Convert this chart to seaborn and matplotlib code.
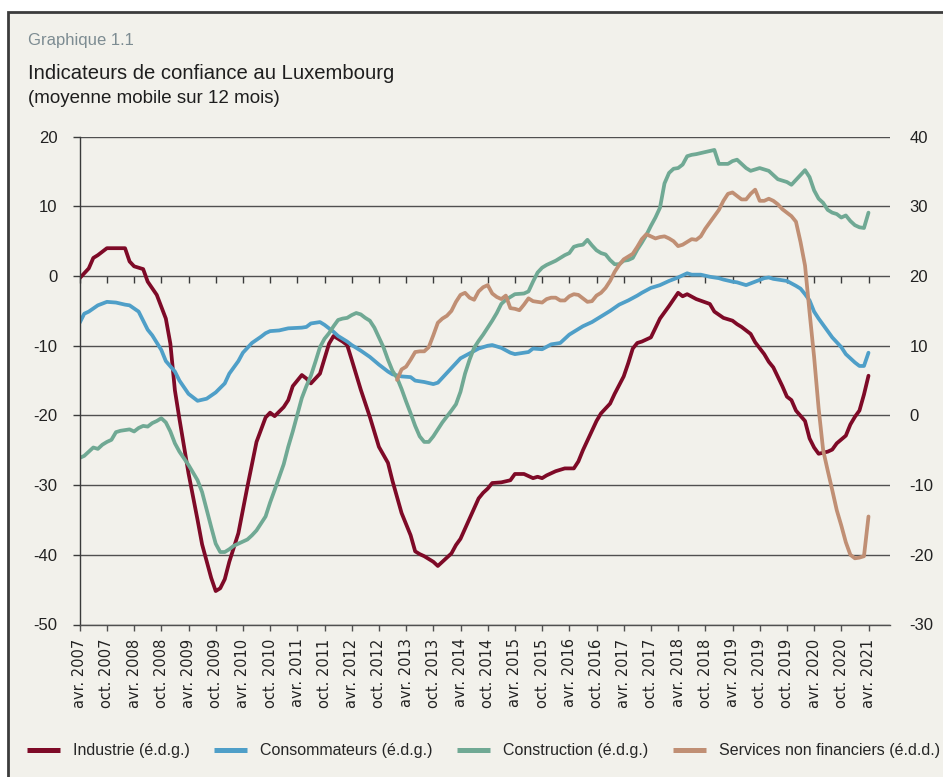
import numpy as np
import pandas as pd
import matplotlib
matplotlib.use("Agg")
import matplotlib.pyplot as plt
import seaborn as sns
from matplotlib.lines import Line2D
from matplotlib.patches import Rectangle

# ---------------- data (month index from avr. 2007) ----------------
ind_m = [0, 2, 3, 4, 6, 10, 11, 12, 14, 15, 17, 19, 20, 21, 22, 24, 26, 27, 29, 30, 31, 32, 33, 35, 37, 39,
         41, 42, 43, 45, 46, 47, 49, 50, 51, 53, 55, 56, 58, 59, 60, 62, 64, 66, 68, 69, 71, 73, 74, 75, 76,
         78, 79, 80, 82, 83, 84, 86, 88, 89, 90, 91, 93, 95, 96, 98, 100, 101, 102, 103, 105, 107, 109, 110,
         111, 112, 114, 115, 117, 118, 120, 121, 122, 123, 124, 126, 128, 130, 132, 133, 134, 136, 139, 140,
         142, 144, 145, 146, 148, 149, 151, 152, 153, 155, 156, 157, 158, 160, 161, 162, 163, 165, 166, 167,
         169, 170, 171, 172, 173, 174]
ind_v = [-0.3, 1.1, 2.6, 3.0, 4.0, 4.0, 2.1, 1.4, 1.0, -0.8, -2.7, -6.1, -9.7, -16.4, -20.5, -28.3, -35.0,
         -38.5, -43.3, -45.2, -44.8, -43.5, -41.0, -36.9, -30.2, -23.8, -20.3, -19.6, -20.1, -18.8, -17.8,
         -15.8, -14.2, -14.7, -15.4, -14.0, -9.7, -8.6, -9.4, -9.9, -12.0, -16.3, -20.2, -24.5, -26.8, -29.4,
         -34.0, -37.2, -39.5, -39.9, -40.2, -41.0, -41.6, -41.0, -39.8, -38.6, -37.7, -34.8, -31.9, -31.1,
         -30.5, -29.7, -29.6, -29.3, -28.4, -28.4, -29.0, -28.8, -29.0, -28.6, -28.0, -27.6, -27.6, -26.6,
         -25.0, -23.6, -20.8, -19.7, -18.3, -16.9, -14.4, -12.5, -10.4, -9.6, -9.4, -8.8, -6.1, -4.3, -2.4,
         -2.9, -2.6, -3.3, -4.0, -5.1, -6.0, -6.4, -6.9, -7.3, -8.3, -9.5, -11.2, -12.3, -13.1, -15.8, -17.3,
         -17.8, -19.3, -20.8, -23.3, -24.6, -25.5, -25.2, -24.9, -24.0, -22.9, -21.3, -20.2, -19.3, -17.0,
         -14.3]

con_m = [0, 1, 2, 4, 6, 8, 10, 11, 13, 15, 16, 18, 19, 21, 22, 24, 26, 28, 30, 32, 33, 35, 36, 38, 40, 41,
         42, 44, 46, 49, 50, 51, 53, 54, 56, 57, 59, 60, 62, 64, 66, 68, 69, 71, 73, 74, 76, 78, 79, 80, 82,
         84, 86, 88, 90, 91, 93, 95, 96, 98, 99, 100, 102, 104, 106, 108, 110, 111, 113, 115, 117, 119, 121,
         123, 124, 126, 128, 130, 132, 134, 135, 137, 139, 141, 142, 144, 145, 147, 149, 151, 152, 153, 156,
         158, 159, 160, 161, 162, 163, 165, 166, 168, 169, 170, 171, 172, 173, 174]
con_v = [-6.7, -5.4, -5.1, -4.2, -3.7, -3.8, -4.1, -4.2, -5.1, -7.7, -8.5, -10.6, -12.2, -13.7, -15.0,
         -16.9, -17.9, -17.6, -16.7, -15.4, -14.0, -12.2, -11.0, -9.6, -8.7, -8.2, -7.9, -7.8, -7.5, -7.4,
         -7.3, -6.8, -6.6, -7.0, -8.0, -8.6, -9.4, -9.9, -10.7, -11.6, -12.7, -13.7, -14.1, -14.4, -14.5,
         -15.0, -15.2, -15.5, -15.3, -14.6, -13.2, -11.8, -11.1, -10.4, -10.0, -9.9, -10.3, -11.0, -11.2,
         -11.0, -10.9, -10.4, -10.5, -9.8, -9.6, -8.4, -7.6, -7.2, -6.6, -5.8, -5.0, -4.1, -3.5, -2.8, -2.4,
         -1.7, -1.3, -0.7, -0.2, 0.4, 0.2, 0.2, -0.1, -0.3, -0.5, -0.8, -0.9, -1.3, -0.8, -0.3, -0.2, -0.4,
         -0.7, -1.4, -1.8, -2.6, -3.5, -5.1, -6.1, -7.9, -8.8, -10.2, -11.2, -11.8, -12.4, -12.9, -12.9,
         -11.0]

bat_m = list(range(0, 23)) + [24, 26, 27, 28, 29, 30, 31, 32, 33, 34, 35, 36, 37, 38, 39, 40, 41, 42, 43,
         45, 46, 47, 49, 50, 51, 52, 53, 54, 55, 56, 57, 58, 59, 60, 61, 62, 63, 64, 65, 66, 67, 68, 69, 70,
         71, 72, 73, 74, 75, 76, 77, 78, 79, 80, 82, 83, 84, 85, 86, 87, 88, 89, 90, 91, 92, 93, 94, 95, 96,
         98, 99, 100, 101, 102, 103, 104, 105, 106, 107, 108, 109, 110, 111, 112, 113, 114, 115, 116, 117,
         118, 119, 120, 121, 122, 123, 124, 125, 126, 127, 128, 129, 130, 131, 132, 133, 134, 135, 136, 138,
         140, 141, 142, 143, 144, 145, 146, 147, 148, 149, 150, 151, 152, 153, 154, 155, 156, 157, 158, 159,
         160, 161, 162, 163, 164, 165, 166, 167, 168, 169, 170, 171, 172, 173, 174]
bat_v = [-26.1, -25.8, -25.2, -24.6, -24.8, -24.2, -23.8, -23.5, -22.4, -22.2, -22.1, -22.0, -22.3, -21.8,
         -21.5, -21.6, -21.1, -20.8, -20.4, -21.0, -22.3, -24.0, -25.2, -27.1, -29.3, -31.0, -33.5, -36.0,
         -38.4, -39.6, -39.6, -39.2, -38.7, -38.4, -38.1, -37.8, -37.2, -36.5, -35.5, -34.5, -32.5, -30.7,
         -27.0, -24.5, -22.3, -17.5, -15.8, -14.3, -12.3, -10.2, -9.0, -8.2, -7.2, -6.3, -6.1, -6.0, -5.6,
         -5.3, -5.5, -6.0, -6.4, -7.4, -8.8, -10.2, -12.0, -13.6, -14.6, -16.2, -18.0, -19.7, -21.5, -23.0,
         -23.8, -23.8, -23.0, -22.0, -21.0, -19.3, -18.4, -16.6, -14.0, -12.0, -10.3, -9.3, -8.4, -7.4, -6.4,
         -5.3, -4.0, -3.4, -3.0, -2.6, -2.5, -2.2, -0.8, 0.5, 1.2, 1.6, 1.9, 2.2, 2.6, 3.0, 3.3, 4.2, 4.4,
         4.5, 5.2, 4.4, 3.7, 3.3, 3.1, 2.3, 1.7, 1.7, 2.2, 2.3, 2.6, 3.8, 4.8, 5.9, 7.2, 8.4, 9.8, 13.3, 14.8,
         15.4, 15.5, 16.0, 17.2, 17.4, 17.5, 17.8, 18.1, 16.1, 16.1, 16.1, 16.5, 16.7, 16.1, 15.5, 15.1,
         15.3, 15.5, 15.3, 15.1, 14.5, 13.9, 13.7, 13.5, 13.1, 13.8, 14.5, 15.2, 14.2, 12.3, 11.1, 10.5, 9.5,
         9.1, 8.9, 8.4, 8.7, 7.9, 7.3, 7.0, 6.9, 9.1]

srv_m = list(range(70, 175))
srv_v = [5.1, 6.6, 7.0, 8.0, 9.1, 9.2, 9.2, 9.8, 11.5, 13.3, 13.9, 14.3, 15.0, 16.3, 17.3, 17.6, 16.9,
         16.6, 17.8, 18.4, 18.7, 17.5, 17.0, 16.7, 17.2, 15.4, 15.3, 15.1, 15.9, 16.8, 16.4, 16.3, 16.2,
         16.7, 16.9, 16.9, 16.5, 16.5, 17.1, 17.4, 17.3, 16.8, 16.3, 16.4, 17.2, 17.6, 18.3, 19.3, 20.6,
         21.6, 22.4, 22.8, 23.2, 24.2, 25.3, 26.0, 25.7, 25.4, 25.6, 25.7, 25.4, 25.0, 24.3, 24.5, 24.9,
         25.3, 25.2, 25.7, 26.8, 27.7, 28.6, 29.5, 30.8, 31.8, 32.0, 31.5, 31.0, 31.0, 31.8, 32.4, 30.8,
         30.8, 31.1, 30.8, 30.3, 29.6, 29.1, 28.6, 27.8, 24.9, 21.5, 14.8, 8.4, 1.0, -5.0, -7.9, -10.7,
         -13.6, -15.8, -18.2, -20.0, -20.5, -20.4, -20.2, -14.5]

tick_labels = ["avr. 2007", "oct. 2007", "avr. 2008", "oct. 2008", "avr. 2009", "oct. 2009",
               "avr. 2010", "oct. 2010", "avr. 2011", "oct. 2011", "avr. 2012", "oct. 2012",
               "avr. 2013", "oct. 2013", "avr. 2014", "oct. 2014", "avr. 2015", "oct. 2015",
               "avr. 2016", "oct. 2016", "avr. 2017", "oct. 2017", "avr. 2018", "oct. 2018",
               "avr. 2019", "oct. 2019", "oct. 2019", "avr. 2020", "oct. 2020", "avr. 2021"]

series_names = ["Industrie (é.d.g.)", "Consommateurs (é.d.g.)", "Construction (é.d.g.)",
                "Services non financiers (é.d.d.)"]
colors = ["#7e0a27", "#4f9fc8", "#70a994", "#c08f74"]

left_ticks = [-50, -40, -30, -20, -10, 0, 10, 20]
right_ticks = [-30, -20, -10, 0, 10, 20, 30, 40]

# ---------------- style ----------------
sns.set_style("white")
REG = "Liberation Sans"
plt.rcParams["font.family"] = [REG, "DejaVu Sans"]
plt.rcParams["axes.unicode_minus"] = False

W, H = 943, 777
fig = plt.figure(figsize=(W / 100, H / 100), dpi=100, facecolor="white")
BG = "#f2f1eb"
fig.patches.append(Rectangle((8 / W, -0.05), 1.2, 1 - 12 / H + 0.05, transform=fig.transFigure,
                             facecolor=BG, edgecolor="#3c3c3c", lw=2.0, zorder=-10))

fig.text(28 / W, 1 - 45 / H, "Graphique 1.1", color="#7d8c92", fontsize=12, va="baseline")
fig.text(28 / W, 1 - 79 / H, "Indicateurs de confiance au Luxembourg", color="#1e1e1e", fontsize=14.6,
         va="baseline")
fig.text(28 / W, 1 - 103 / H, "(moyenne mobile sur 12 mois)", color="#1e1e1e", fontsize=13.5,
         va="baseline")

x0, x1 = 79.7, 890
y0, y1 = 136.7, 624.5
ax = fig.add_axes([x0 / W, 1 - y1 / H, (x1 - x0) / W, (y1 - y0) / H])
ax.set_facecolor("none")

lw = 2.7
sns.lineplot(x=ind_m, y=ind_v, ax=ax, color=colors[0], lw=lw)
sns.lineplot(x=con_m, y=con_v, ax=ax, color=colors[1], lw=lw)
sns.lineplot(x=bat_m, y=bat_v, ax=ax, color=colors[2], lw=lw)

ax.set_xlim(0, (x1 - x0) / (27.2 / 6))
ax.set_ylim(-50, 20)
ax.set_yticks(left_ticks)
ax.set_yticklabels([str(t) for t in left_ticks])
ax.set_xticks(range(0, 6 * len(tick_labels), 6))
ax.set_xticklabels(tick_labels, rotation=90, family="DejaVu Sans", fontsize=10.5, color="#222222")
ax.grid(axis="y", color="#505050", lw=1.0)
ax.grid(axis="x", visible=False)
for s in ["top", "right"]:
    ax.spines[s].set_visible(False)
ax.spines["left"].set_color("#3a3a3a")
ax.spines["left"].set_linewidth(1.0)
ax.spines["bottom"].set_color("#505050")
ax.spines["bottom"].set_linewidth(1.0)
ax.tick_params(axis="y", left=True, direction="out", length=5, width=1, color="#3a3a3a", pad=11,
               labelsize=12, labelcolor="#222222")
ax.tick_params(axis="x", bottom=True, direction="out", length=4, width=1, color="#505050", pad=6)
ax.set_xlabel("")
ax.set_ylabel("")

sec = ax.secondary_xaxis(50 / 70)
sec.set_xticks(range(0, 6 * len(tick_labels), 6))
sec.tick_params(axis="x", direction="out", length=5, width=1, color="#3a3a3a", labelbottom=False,
                labeltop=False, bottom=True, top=False)
sec.spines["bottom"].set_visible(False)
sec.spines["top"].set_visible(False)

ax2 = ax.twinx()
sns.lineplot(x=srv_m, y=srv_v, ax=ax2, color=colors[3], lw=lw)
ax2.set_ylim(-30, 40)
ax2.set_yticks(right_ticks)
ax2.set_yticklabels([str(t) for t in right_ticks])
ax2.tick_params(axis="y", right=True, length=0, pad=14, labelsize=12, labelcolor="#222222")
ax2.grid(False)
for s in ax2.spines.values():
    s.set_visible(False)
ax2.set_ylabel("")

handles = [Line2D([0], [0], color=c, lw=3.6, solid_capstyle="butt") for c in colors]
fig.legend(handles, series_names, loc="center left", bbox_to_anchor=(27 / W, 1 - 751 / H), ncol=4,
           frameon=False, borderpad=0, borderaxespad=0, handlelength=2.06, handletextpad=0.8,
           columnspacing=1.55, prop={"size": 11.5})

fig.savefig("out.png", dpi=100, facecolor="white")
